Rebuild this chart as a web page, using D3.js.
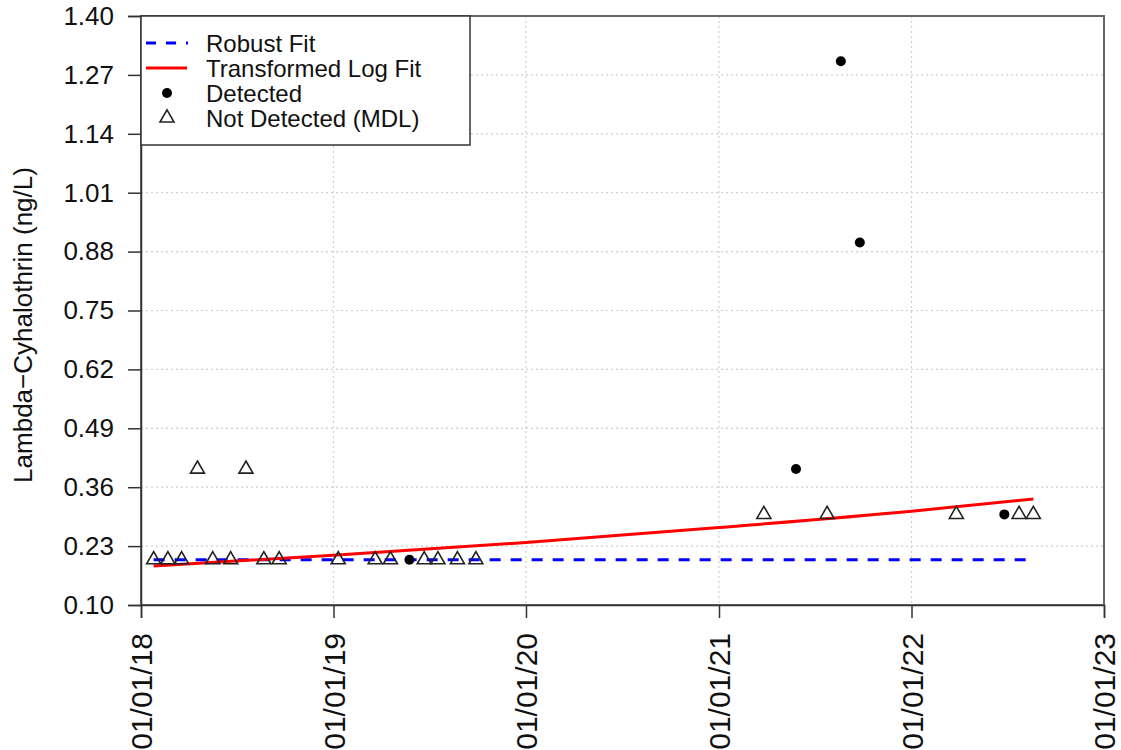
<!DOCTYPE html>
<html>
<head>
<meta charset="utf-8">
<script src="https://cdn.jsdelivr.net/npm/d3@7"></script>
<style>
  html, body { margin: 0; padding: 0; background: #fff; }
  svg { display: block; font-family: Arial, "Liberation Sans", sans-serif; }
</style>
</head>
<body>
<svg id="chart" width="1121" height="750"></svg>
<script>
// Lambda-Cyhalothrin concentration record
const yTickValues = [0.10, 0.23, 0.36, 0.49, 0.62, 0.75, 0.88, 1.01, 1.14, 1.27, 1.40];
const xTickDates = ["2018-01-01", "2019-01-01", "2020-01-01", "2021-01-01", "2022-01-01", "2023-01-01"];

// Samples below detection, plotted at the method detection limit
const notDetectedDates = [
  "2018-01-25", "2018-02-21", "2018-03-19", "2018-04-18", "2018-05-17", "2018-06-20",
  "2018-07-19", "2018-08-22", "2018-09-20", "2019-01-10", "2019-03-21", "2019-04-19",
  "2019-06-22", "2019-07-18", "2019-08-24", "2019-09-28", "2021-03-27", "2021-07-25",
  "2022-03-27", "2022-07-24", "2022-08-20"
];
const notDetectedValues = [
  0.20, 0.20, 0.20, 0.40, 0.20, 0.20,
  0.40, 0.20, 0.20, 0.20, 0.20, 0.20,
  0.20, 0.20, 0.20, 0.20, 0.30, 0.30,
  0.30, 0.30, 0.30
];

// Detected samples
const detectedDates = ["2019-05-25", "2021-05-27", "2021-08-20", "2021-09-25", "2022-06-26"];
const detectedValues = [0.20, 0.40, 1.30, 0.90, 0.30];

// Robust fit (flat)
const robustDates = ["2018-01-25", "2022-08-20"];
const robustValues = [0.20, 0.20];

// Transformed log fit
const logFitDates = ["2018-01-25", "2019-01-01", "2020-01-01", "2021-01-01", "2022-01-01", "2022-08-20"];
const logFitValues = [0.186, 0.210, 0.238, 0.271, 0.307, 0.334];

const parse = d3.timeParse("%Y-%m-%d");
const svg = d3.select("#chart");

const plotLeft = 141, plotRight = 1104, plotTop = 16, plotBottom = 605;

const x = d3.scaleTime()
  .domain([parse("2018-01-01"), parse("2023-01-01")])
  .range([plotLeft, plotRight]);
const y = d3.scaleLinear()
  .domain([0.10, 1.40])
  .range([plotBottom, plotTop]);

// Grid
const grid = svg.append("g").attr("stroke", "#cfcfcf").attr("stroke-width", 1.2)
  .attr("stroke-dasharray", "2,3");
grid.selectAll(".gy").data(yTickValues).enter().append("line")
  .attr("x1", plotLeft).attr("x2", plotRight)
  .attr("y1", d => y(d)).attr("y2", d => y(d));
grid.selectAll(".gx").data(xTickDates).enter().append("line")
  .attr("x1", d => x(parse(d))).attr("x2", d => x(parse(d)))
  .attr("y1", plotTop).attr("y2", plotBottom);

// Fit lines
const line = d3.line().x(d => x(d[0])).y(d => y(d[1]));
svg.append("path")
  .datum(robustDates.map((d, i) => [parse(d), robustValues[i]]))
  .attr("d", line).attr("fill", "none")
  .attr("stroke", "#0000ff").attr("stroke-width", 3)
  .attr("stroke-dasharray", "11,10");
svg.append("path")
  .datum(logFitDates.map((d, i) => [parse(d), logFitValues[i]]))
  .attr("d", d3.line().x(d => x(d[0])).y(d => y(d[1])).curve(d3.curveMonotoneX))
  .attr("fill", "none")
  .attr("stroke", "#ff0000").attr("stroke-width", 3);

// Point symbols
function triPath(cx, cy, s) {
  const h = s * Math.sqrt(3) / 2;
  return `M${cx},${cy - h * 2 / 3}L${cx + s / 2},${cy + h / 3}L${cx - s / 2},${cy + h / 3}Z`;
}
svg.append("g").selectAll("path")
  .data(notDetectedDates.map((d, i) => [parse(d), notDetectedValues[i]]))
  .enter().append("path")
  .attr("d", d => triPath(x(d[0]), y(d[1]), 14))
  .attr("fill", "none").attr("stroke", "#222").attr("stroke-width", 1.6);
svg.append("g").selectAll("circle")
  .data(detectedDates.map((d, i) => [parse(d), detectedValues[i]]))
  .enter().append("circle")
  .attr("cx", d => x(d[0])).attr("cy", d => y(d[1])).attr("r", 5)
  .attr("fill", "#000");

// Plot frame
svg.append("rect")
  .attr("x", plotLeft).attr("y", plotTop)
  .attr("width", plotRight - plotLeft).attr("height", plotBottom - plotTop)
  .attr("fill", "none").attr("stroke", "#666").attr("stroke-width", 2);

// Y axis
const yAxis = svg.append("g").attr("transform", `translate(${plotLeft},0)`)
  .call(d3.axisLeft(y).tickValues(yTickValues).tickSize(13).tickPadding(14)
    .tickFormat(d3.format(".2f")));
yAxis.selectAll("text").attr("font-size", 26).attr("fill", "#111")
  .attr("font-family", "Arial, 'Liberation Sans', sans-serif");
yAxis.selectAll("line, path").attr("stroke", "#333").attr("stroke-width", 1.5);

// X axis
const xAxis = svg.append("g").attr("transform", `translate(0,${plotBottom})`)
  .call(d3.axisBottom(x).tickValues(xTickDates.map(parse)).tickSize(13)
    .tickFormat(d3.timeFormat("%m/%d/%y")));
xAxis.selectAll("line, path").attr("stroke", "#333").attr("stroke-width", 1.5);
xAxis.selectAll("text")
  .attr("font-size", 30).attr("fill", "#111")
  .attr("font-family", "Arial, 'Liberation Sans', sans-serif")
  .attr("text-anchor", "end")
  .attr("transform", "rotate(-90)")
  .attr("x", -28).attr("y", 0).attr("dy", "0.36em");

// Y axis title
svg.append("text")
  .attr("transform", "translate(32,325) rotate(-90)")
  .attr("text-anchor", "middle")
  .attr("font-size", 26).attr("fill", "#111")
  .text("Lambda\u2212Cyhalothrin (ng/L)");

// Legend
const lg = svg.append("g");
lg.append("rect").attr("x", plotLeft).attr("y", plotTop).attr("width", 329).attr("height", 129)
  .attr("fill", "#fff").attr("stroke", "#333").attr("stroke-width", 1.5);
const rows = [
  { label: "Robust Fit", type: "dash" },
  { label: "Transformed Log Fit", type: "line" },
  { label: "Detected", type: "dot" },
  { label: "Not Detected (MDL)", type: "tri" }
];
rows.forEach((r, i) => {
  const cy = 43 + i * 25;
  if (r.type === "dash") {
    lg.append("line").attr("x1", 146).attr("x2", 188).attr("y1", cy).attr("y2", cy)
      .attr("stroke", "#0000ff").attr("stroke-width", 3).attr("stroke-dasharray", "10,10");
  } else if (r.type === "line") {
    lg.append("line").attr("x1", 146).attr("x2", 187).attr("y1", cy).attr("y2", cy)
      .attr("stroke", "#ff0000").attr("stroke-width", 3);
  } else if (r.type === "dot") {
    lg.append("circle").attr("cx", 167).attr("cy", cy).attr("r", 5).attr("fill", "#000");
  } else {
    lg.append("path").attr("d", triPath(167, cy, 14)).attr("fill", "none")
      .attr("stroke", "#222").attr("stroke-width", 1.6);
  }
  lg.append("text").attr("x", 206).attr("y", cy).attr("dy", "0.36em")
    .attr("font-size", 24).attr("fill", "#111").text(r.label);
});
</script>
</body>
</html>
